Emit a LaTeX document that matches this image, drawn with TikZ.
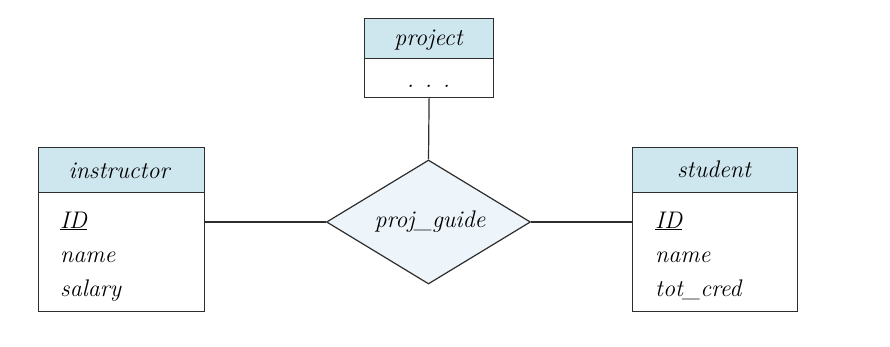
\documentclass[tikz,border=0pt]{standalone}
\usetikzlibrary{shapes.geometric}
\definecolor{hdrblue}{RGB}{206,230,238}
\definecolor{relblue}{RGB}{238,245,250}
\definecolor{edge}{RGB}{45,45,45}
\tikzset{
  x=1pt,y=-1pt,
  box/.style={draw=edge,line width=1.2pt,inner sep=0pt,anchor=north west},
  hdr/.style={box,fill=hdrblue},
  txt/.style={font=\fontsize{24}{28}\selectfont\itshape,inner sep=0pt},
  conn/.style={draw=edge,line width=1.2pt},
}
\begin{document}
\begin{tikzpicture}
\useasboundingbox (0,0) rectangle (890,346);
% project
\node[hdr,minimum width=129pt,minimum height=40pt] (projh) at (364,18) {};
\node[box,minimum width=129pt,minimum height=39pt] (projb) at (364,58) {};
\node[txt,anchor=base] (projt) at (428.5,45) {project};
\node[txt,anchor=base] (projd) at (428.5,87) {.\hspace{0.45em}.\hspace{0.45em}.};
% instructor
\node[hdr,minimum width=166pt,minimum height=45pt] (insh) at (38,147) {};
\node[box,minimum width=166pt,minimum height=119pt] (insb) at (38,192) {};
\node[txt,anchor=base] (inst) at (119,178) {instructor};
\node[txt,anchor=base west] (insa1) at (60,228) {\underline{ID}};
\node[txt,anchor=base west] (insa2) at (60,262) {name};
\node[txt,anchor=base west] (insa3) at (60,296) {salary};
% student
\node[hdr,minimum width=165pt,minimum height=45pt] (stuh) at (632,147) {};
\node[box,minimum width=165pt,minimum height=119pt] (stub) at (632,192) {};
\node[txt,anchor=base] (stut) at (714,177) {student};
\node[txt,anchor=base west] (stua1) at (655,228) {\underline{ID}};
\node[txt,anchor=base west] (stua2) at (655,262) {name};
\node[txt,anchor=base west] (stua3) at (655,296) {tot\_cred};
% relationship
\node[diamond,draw=edge,line width=1.2pt,fill=relblue,inner sep=0pt,
      minimum width=204pt,minimum height=124pt] (rel) at (428.5,222) {};
\node[txt,anchor=base] (relt) at (430,227) {proj\_guide};
% connectors
\draw[conn] (projb.south) -- (rel.north);
\draw[conn] (insb.east |- rel.west) -- (rel.west);
\draw[conn] (rel.east) -- (stub.west |- rel.east);
\end{tikzpicture}
\end{document}
